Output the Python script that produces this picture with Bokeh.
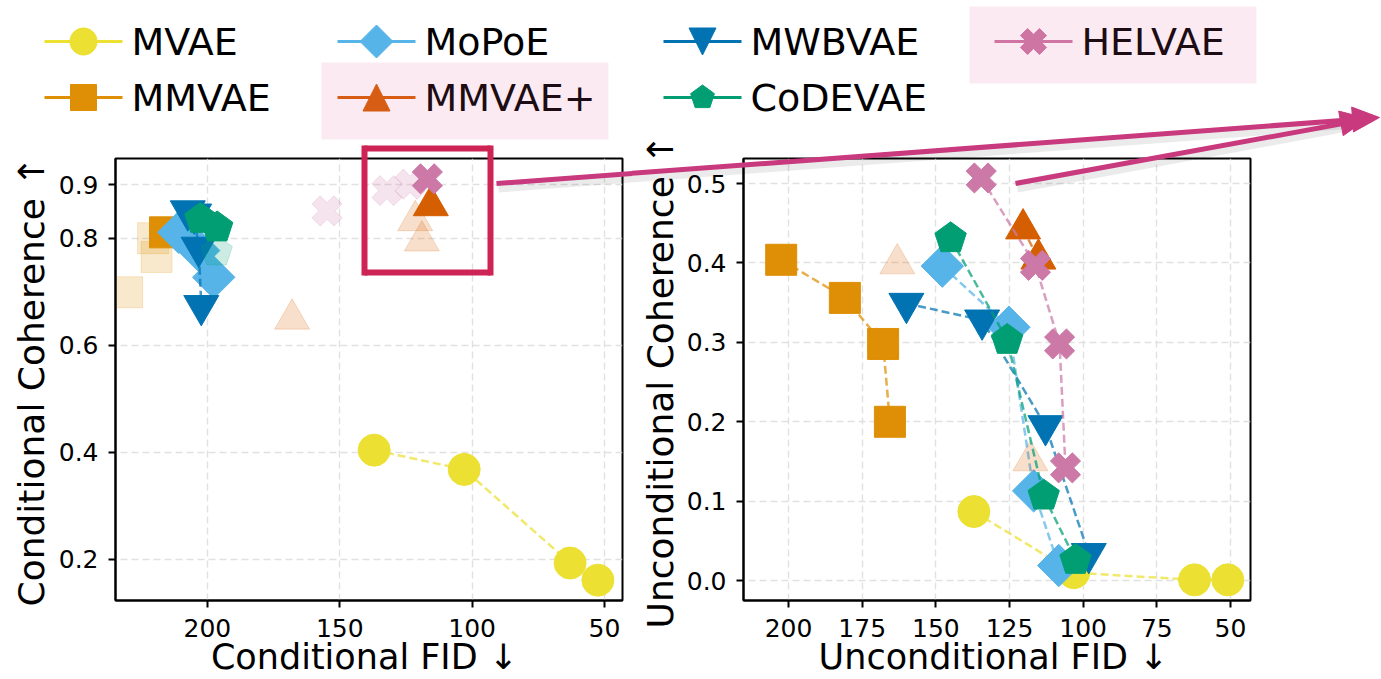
import math
from bokeh.plotting import figure
from bokeh.models import Range1d, FixedTicker, PrintfTickFormatter
from bokeh.layouts import row
from bokeh.embed import file_html
from bokeh.resources import INLINE
from bokeh.core.properties import value

FONT = "DejaVu Sans"

# ---------------- data ----------------
model_names = ["MVAE", "MMVAE", "MoPoE", "MMVAE+", "MWBVAE", "CoDEVAE", "HELVAE"]
model_colors = ["#ECE133", "#DE8F05", "#56B4E9", "#D55E00", "#0173B2", "#029E73", "#CC79A7"]
model_markers = ["circle", "square", "diamond", "triangle", "inverted_triangle", "pentagon", "X"]

# Conditional panel (left): FID vs coherence
mvae_cond_fid = [137, 103, 63, 52.5]
mvae_cond_coh = [0.404, 0.368, 0.193, 0.161]
mmvae_cond_fid = [216]
mmvae_cond_coh = [0.811]
mmvae_cond_fid_faded = [220.5, 219.2, 230.3]
mmvae_cond_coh_faded = [0.800, 0.765, 0.699]
mopoe_cond_fid = [210.8, 203.3, 197.6]
mopoe_cond_coh = [0.811, 0.777, 0.727]
mmvaep_cond_fid = [115.6]
mmvaep_cond_coh = [0.861]
mmvaep_cond_fid_faded = [121.5, 119.0, 168.0]
mmvaep_cond_coh_faded = [0.833, 0.795, 0.649]
mwbvae_cond_fid = [207.4, 205.0, 203.3, 202.3]
mwbvae_cond_coh = [0.851, 0.845, 0.783, 0.674]
codevae_cond_fid = [202.6, 196.3]
codevae_cond_coh = [0.836, 0.820]
codevae_cond_fid_faded = [196.5]
codevae_cond_coh_faded = [0.775]
helvae_cond_fid = [116.9]
helvae_cond_coh = [0.911]
helvae_cond_fid_faded = [154.8, 132.2, 123.4]
helvae_cond_coh_faded = [0.851, 0.889, 0.901]

# Unconditional panel (right)
mvae_unc_fid = [137.1, 103.2, 62.2, 50.9]
mvae_unc_coh = [0.087, 0.010, 0.001, 0.001]
mmvae_unc_fid = [202.5, 180.9, 167.9, 165.6]
mmvae_unc_coh = [0.404, 0.356, 0.298, 0.200]
mopoe_unc_fid = [147.8, 125.2, 116.8, 108.3]
mopoe_unc_coh = [0.396, 0.319, 0.113, 0.019]
mmvaep_unc_fid = [120.4, 115.2]
mmvaep_unc_coh = [0.443, 0.405]
mmvaep_unc_fid_faded = [163.1, 117.9]
mmvaep_unc_coh_faded = [0.399, 0.151]
mwbvae_unc_fid = [160.0, 134.3, 112.8, 98.1]
mwbvae_unc_coh = [0.349, 0.328, 0.195, 0.034]
codevae_unc_fid = [145.0, 125.8, 113.4, 102.6]
codevae_unc_coh = [0.431, 0.303, 0.107, 0.026]
helvae_unc_fid = [134.6, 116.2, 108.0, 106.0]
helvae_unc_coh = [0.507, 0.397, 0.298, 0.142]

left_x_ticks = [200, 150, 100, 50]
left_y_ticks = [0.2, 0.4, 0.6, 0.8, 0.9]
right_x_ticks = [200, 175, 150, 125, 100, 75, 50]
right_y_ticks = [0.0, 0.1, 0.2, 0.3, 0.4, 0.5]

left_xlabel = "Conditional FID \u2193"
left_ylabel = "Conditional Coherence \u2191"
right_xlabel = "Unconditional FID \u2193"
right_ylabel = "Unconditional Coherence \u2191"

cond_full = {
    "MVAE": (mvae_cond_fid, mvae_cond_coh), "MMVAE": (mmvae_cond_fid, mmvae_cond_coh),
    "MoPoE": (mopoe_cond_fid, mopoe_cond_coh), "MMVAE+": (mmvaep_cond_fid, mmvaep_cond_coh),
    "MWBVAE": (mwbvae_cond_fid, mwbvae_cond_coh), "CoDEVAE": (codevae_cond_fid, codevae_cond_coh),
    "HELVAE": (helvae_cond_fid, helvae_cond_coh)}
cond_faded = {
    "MMVAE": (mmvae_cond_fid_faded, mmvae_cond_coh_faded),
    "MMVAE+": (mmvaep_cond_fid_faded, mmvaep_cond_coh_faded),
    "CoDEVAE": (codevae_cond_fid_faded, codevae_cond_coh_faded),
    "HELVAE": (helvae_cond_fid_faded, helvae_cond_coh_faded)}
unc_full = {
    "MVAE": (mvae_unc_fid, mvae_unc_coh), "MMVAE": (mmvae_unc_fid, mmvae_unc_coh),
    "MoPoE": (mopoe_unc_fid, mopoe_unc_coh), "MMVAE+": (mmvaep_unc_fid, mmvaep_unc_coh),
    "MWBVAE": (mwbvae_unc_fid, mwbvae_unc_coh), "CoDEVAE": (codevae_unc_fid, codevae_unc_coh),
    "HELVAE": (helvae_unc_fid, helvae_unc_coh)}
unc_faded = {"MMVAE+": (mmvaep_unc_fid_faded, mmvaep_unc_coh_faded)}

COLORS = dict(zip(model_names, model_colors))
MARKERS = dict(zip(model_names, model_markers))

# ---------------- layout geometry (canvas pixels) ----------------
H = 679
LEFT_W, RIGHT_W = 632, 748
SPLIT = LEFT_W
LEFT_FRAME = dict(L=115, R=622, T=158, B=600, x0=234.7, x1=43.2, y0=0.123, y1=0.949, off=0, W=LEFT_W)
RIGHT_FRAME = dict(L=743, R=1250, T=158, B=600, x0=215.3, x1=43.2, y0=-0.025, y1=0.5315, off=SPLIT, W=RIGHT_W)


def conv(fr):
    ux = (fr["x1"] - fr["x0"]) / (fr["R"] - fr["L"])
    uy = (fr["y1"] - fr["y0"]) / (fr["B"] - fr["T"])

    def to_data(px, py):
        return fr["x0"] + (px - fr["L"]) * ux, fr["y1"] - (py - fr["T"]) * uy
    return to_data, ux, uy


def make_fig(fr, xticks, yticks):
    p = figure(width=fr["W"], height=H,
               x_range=Range1d(fr["x0"], fr["x1"]), y_range=Range1d(fr["y0"], fr["y1"]),
               output_backend="svg", toolbar_location=None,
               min_border_left=fr["L"] - fr["off"], min_border_right=fr["off"] + fr["W"] - fr["R"],
               min_border_top=fr["T"], min_border_bottom=H - fr["B"])
    p.background_fill_color = "white"
    p.border_fill_color = "white"
    p.outline_line_color = "black"
    p.outline_line_width = 2
    p.outline_line_alpha = 1
    p.xaxis.ticker = FixedTicker(ticks=xticks)
    p.yaxis.ticker = FixedTicker(ticks=yticks)
    p.xgrid.ticker = FixedTicker(ticks=xticks)
    p.ygrid.ticker = FixedTicker(ticks=yticks)
    p.xaxis.formatter = PrintfTickFormatter(format="%d")
    p.yaxis.formatter = PrintfTickFormatter(format="%.1f")
    for ax in (p.xaxis, p.yaxis):
        ax.major_label_text_font = FONT
        ax.major_label_text_font_size = "25px"
        ax.major_label_text_color = "black"
        ax.major_tick_out = 7
        ax.major_tick_in = 0
        ax.minor_tick_out = 0
        ax.minor_tick_in = 0
        ax.major_tick_line_width = 2
        ax.axis_line_width = 2
    p.xaxis.major_label_standoff = 11
    p.yaxis.major_label_standoff = 10
    p.grid.grid_line_color = "#d9d9d9"
    p.grid.grid_line_dash = "7 4"
    p.grid.grid_line_width = 1.4
    p.grid.grid_line_alpha = 0.8
    return p


def poly_offsets(kind, s):
    """Vertex offsets in pixels (y up) for a marker shape of nominal size s."""
    if kind == "circle":
        r = s / 2
        return [(r * math.cos(2 * math.pi * k / 48), r * math.sin(2 * math.pi * k / 48)) for k in range(48)]
    if kind == "square":
        h = s / 2
        return [(-h, -h), (h, -h), (h, h), (-h, h)]
    if kind == "diamond":
        d = s / 2
        return [(0, d), (d, 0), (0, -d), (-d, 0)]
    if kind == "triangle":
        h = s / 2
        return [(0, h), (-h, -h), (h, -h)]
    if kind == "inverted_triangle":
        h = s / 2
        return [(0, -h), (-h, h), (h, h)]
    if kind == "pentagon":
        r = s / 2
        return [(r * math.cos(math.pi / 2 + 2 * math.pi * k / 5), r * math.sin(math.pi / 2 + 2 * math.pi * k / 5)) for k in range(5)]
    if kind == "X":
        r = s / 1.94
        a = 3 * r / 8
        pts = [(a, r), (a, a), (r, a), (r, -a), (a, -a), (a, -r), (-a, -r), (-a, -a), (-r, -a), (-r, a), (-a, a), (-a, r)]
        c = math.cos(math.pi / 4)
        return [(x * c - y * c, x * c + y * c) for x, y in pts]
    return []


SCATTER_SPEC = {
    "circle": ("circle", 32, 0.0),
    "square": ("square", 31, 0.0),
    "diamond": ("square", 30, math.pi / 4),
    "triangle": ("triangle", 35, 0.0),
    "inverted_triangle": ("inverted_triangle", 35, 0.0),
    "X": ("plus", 31, math.pi / 4),
}
LEGEND_SIZE = {"circle": 27, "square": 26, "diamond": 33, "triangle": 27,
               "inverted_triangle": 27, "pentagon": 25, "X": 26}


def draw_series(p, fr, name, xs, ys, alpha, with_line):
    c = COLORS[name]
    kind = MARKERS[name]
    if with_line and len(xs) > 1:
        p.line(xs, ys, line_color=c, line_width=2.5, line_dash="8 4", line_alpha=0.72)
    if kind == "pentagon":
        _, ux, uy = conv(fr)
        offs = poly_offsets("pentagon", 33)
        pxs = [[x + dx * ux for dx, dy in offs] for x in xs]
        pys = [[y + dy * uy for dx, dy in offs] for y in ys]
        p.patches(pxs, pys, fill_color=c, line_color=c, fill_alpha=alpha,
                  line_alpha=alpha, line_width=1)
    else:
        mk, size, ang = SCATTER_SPEC[kind]
        p.scatter(xs, ys, marker=mk, size=size, angle=ang, fill_color=c, line_color=c,
                  fill_alpha=alpha, line_alpha=alpha, line_width=1)


# ----- overlay helpers (page-pixel placement for decorations outside the frames) -----
def ov_segment(p, fr, a, b, color, width, alpha=1.0):
    to_data, _, _ = conv(fr)
    xa, ya = to_data(*a)
    xb, yb = to_data(*b)
    p.segment(x0=[xa], y0=[ya], x1=[xb], y1=[yb], line_color=color, line_width=width,
              line_alpha=alpha, level="overlay")


def ov_poly(p, fr, pts, **kw):
    to_data, _, _ = conv(fr)
    d = [to_data(*q) for q in pts]
    p.patch([q[0] for q in d], [q[1] for q in d], level="overlay", **kw)


def ov_text(p, fr, px, py, text, size, angle=0.0, align="left"):
    to_data, _, _ = conv(fr)
    x, y = to_data(px, py)
    p.text(x=[x], y=[y], text=[text], angle=angle, text_font=value(FONT), text_font_size=value(size),
           text_color="black", text_align=align, text_baseline="middle", level="overlay")


left = make_fig(LEFT_FRAME, left_x_ticks, left_y_ticks)
right = make_fig(RIGHT_FRAME, right_x_ticks, right_y_ticks)

for name in model_names:
    if name in cond_faded:
        draw_series(left, LEFT_FRAME, name, *cond_faded[name], alpha=0.2, with_line=False)
    draw_series(left, LEFT_FRAME, name, *cond_full[name], alpha=1.0, with_line=True)
    if name in unc_faded:
        draw_series(right, RIGHT_FRAME, name, *unc_faded[name], alpha=0.2, with_line=False)
    draw_series(right, RIGHT_FRAME, name, *unc_full[name], alpha=1.0, with_line=True)

# axis titles
ov_text(left, LEFT_FRAME, 364, 656, left_xlabel, "35px", align="center")
ov_text(left, LEFT_FRAME, 30.5, 381, left_ylabel, "36px", angle=math.pi / 2, align="center")
ov_text(right, RIGHT_FRAME, 993, 656, right_xlabel, "35px", align="center")
ov_text(right, RIGHT_FRAME, 659.5, 381, right_ylabel, "36px", angle=math.pi / 2, align="center")

# highlight rectangle on the left panel
RECT_C = "#CD2355"
rect = [(364, 148), (490, 148), (490, 272), (364, 272)]
for i in range(4):
    a, b = rect[i], rect[(i + 1) % 4]
    if a[0] == b[0]:
        a, b = (a[0], min(a[1], b[1]) - 3), (b[0], max(a[1], b[1]) + 3)
    ov_segment(left, LEFT_FRAME, a, b, RECT_C, 6)

# connector arrows with a soft shadow
ARROW_C = "#C8397D"
arrows = [((496, 183), (1379, 117)), ((1015, 183), (1367, 118))]


def arrow_parts(s, t, head_len=27, head_w=25):
    dx, dy = t[0] - s[0], t[1] - s[1]
    n = math.hypot(dx, dy)
    ux, uy = dx / n, dy / n
    base = (t[0] - head_len * ux, t[1] - head_len * uy)
    px, py = -uy, ux
    head = [t, (base[0] + head_w / 2 * px, base[1] + head_w / 2 * py),
            (base[0] - head_w / 2 * px, base[1] - head_w / 2 * py)]
    return base, head


def draw_line_split(s, e, color, width, alpha=1.0):
    if s[0] < SPLIT < e[0]:
        ym = s[1] + (e[1] - s[1]) * (SPLIT - s[0]) / (e[0] - s[0])
        ov_segment(left, LEFT_FRAME, s, (SPLIT + 1, ym), color, width, alpha)
        ov_segment(right, RIGHT_FRAME, (SPLIT - 1, ym), e, color, width, alpha)
    else:
        fig, fr = (left, LEFT_FRAME) if e[0] <= SPLIT else (right, RIGHT_FRAME)
        ov_segment(fig, fr, s, e, color, width, alpha)


for s, t in arrows:
    base, _ = arrow_parts(s, t)
    draw_line_split((s[0] + 2, s[1] + 5), (base[0] + 2, base[1] + 5), "#000000", 8, alpha=0.08)
for s, t in arrows:
    base, head = arrow_parts(s, t)
    draw_line_split(s, (base[0] + 3, base[1]), ARROW_C, 5)
    ov_poly(right, RIGHT_FRAME, head, fill_color=ARROW_C, line_color=ARROW_C, line_width=1)

# legend drawn above the panels
legend_pos = {"MVAE": (83, 41), "MMVAE": (83, 97), "MoPoE": (376, 41), "MMVAE+": (376, 97),
              "MWBVAE": (702, 41), "CoDEVAE": (702, 97), "HELVAE": (1033, 41)}
for name in model_names:
    mx, my = legend_pos[name]
    fig, fr = (left, LEFT_FRAME) if mx < SPLIT else (right, RIGHT_FRAME)
    c = COLORS[name]
    kind = MARKERS[name]
    ov_segment(fig, fr, (mx - 39, my), (mx + 39, my), c, 3)
    ov_poly(fig, fr, [(mx + dx, my - dy) for dx, dy in poly_offsets(kind, LEGEND_SIZE[kind])],
            fill_color=c, line_color=c, line_width=1)
    ov_text(fig, fr, mx + 48, my, name, "38px")

# highlight boxes around the MMVAE+ and HELVAE legend entries
ov_poly(left, LEFT_FRAME, [(321, 62), (608, 62), (608, 139), (321, 139)],
        fill_color="#E0608F", fill_alpha=0.13, line_alpha=0)
ov_poly(right, RIGHT_FRAME, [(969, 6), (1256, 6), (1256, 83), (969, 83)],
        fill_color="#E0608F", fill_alpha=0.13, line_alpha=0)

layout = row(left, right)
open("out.html", "w").write(file_html(layout, INLINE))
